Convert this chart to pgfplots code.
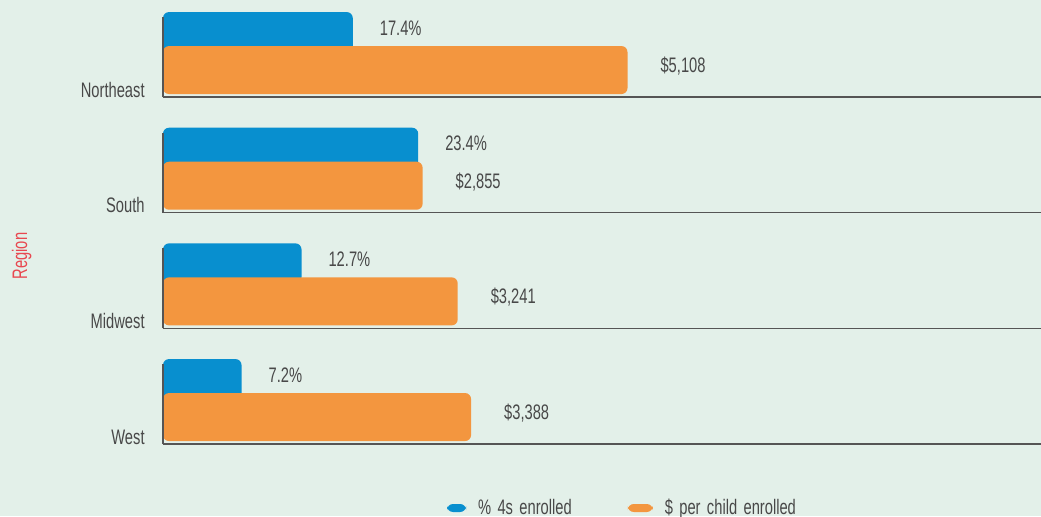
\documentclass[border=0pt]{standalone}
\usepackage{fontspec}
\setmainfont{Liberation Sans}[FakeStretch=0.7]
\usepackage{pgfplots}
\pgfplotsset{compat=1.18}
\definecolor{bgmint}{RGB}{227,240,233}
\definecolor{enrblue}{RGB}{8,143,207}
\definecolor{spendorg}{RGB}{243,150,63}
\definecolor{inkgray}{RGB}{72,72,72}
\definecolor{regred}{RGB}{232,72,80}
\definecolor{baseln}{RGB}{85,85,85}
\newcommand{\wsp}{\hspace{3.2pt}}
\pgfplotsset{
  frame/.style={width=439pt,height=258pt,scale only axis,at={(0,0)},anchor=south west,
    ymin=-0.622,ymax=3.839,xmin=0,xbar,hide x axis,
    font=\fontsize{10.5}{12}\selectfont,
    /pgf/number format/assume math mode=true,
    point meta=x,
    nodes near coords style={anchor=west,text=inkgray,yshift=2pt}},
  rough/.style={rounded corners=3pt},
  chipblue/.style={legend image code/.code={\fill[##1] (0pt,-2pt) rectangle (9.5pt,2pt);}},
  chiporange/.style={legend image code/.code={\fill[##1] (0pt,-2pt) rectangle (12.5pt,2pt);}},
}
\begin{document}
\begin{tikzpicture}
\fill[bgmint] (-81.5pt,0) rectangle (439pt,258pt);
% share of 4-year-olds enrolled
\begin{axis}[frame, xmax=80.5,
  ytick={0,1,2,3}, yticklabels={West,Midwest,South,Northeast},
  y axis line style={draw=none}, major tick length=0pt,
  yticklabel style={anchor=base east,inner sep=0pt,xshift=-9pt,text=inkgray},
  ymajorgrids, major grid style={baseln,line width=0.6pt},
  ylabel={Region},
  ylabel style={at={(axis description cs:-0.161,0.504)},anchor=center,text=regred},
  nodes near coords={\pgfmathprintnumber[fixed,fixed zerofill,precision=1]{\pgfplotspointmeta}\%},
  nodes near coords style={xshift=10pt},
  legend columns=2,
  legend style={at={(0.5245,0.0155)},anchor=center,draw=none,fill=none,text=inkgray,
    /tikz/every odd column/.append style={column sep=4pt},
    /tikz/every even column/.append style={column sep=26pt}},
  ]
\addplot[fill=enrblue,draw=none,bar width=20pt,bar shift=32.5pt,rough,chipblue]
  coordinates {(7.2,0) (12.7,1) (23.4,2) (17.4,3)};
\addlegendentry{\%\wsp 4s\wsp enrolled}
\addlegendimage{fill=spendorg,draw=none,rough,chiporange}
\addlegendentry{\$\wsp per\wsp child\wsp enrolled}
\end{axis}
% spending per child enrolled
\begin{axis}[frame, xmax=9655, hide y axis, clip=false,
  nodes near coords={\$\pgfmathprintnumber[fixed,precision=0,1000 sep={,}]{\pgfplotspointmeta}},
  nodes near coords style={xshift=13pt}]
\addplot[fill=spendorg,draw=none,bar width=24pt,bar shift=13.5pt,rough]
  coordinates {(3388,0) (3241,1) (2855,2) (5108,3)};
\pgfplotsinvokeforeach{0,1,2,3}{\draw[baseln,line width=0.6pt] (axis cs:0,#1) -- ++(0,4pt);}
\end{axis}
\pgfresetboundingbox
\path (-81.5pt,0) rectangle (439pt,258pt);
\end{tikzpicture}
\end{document}
